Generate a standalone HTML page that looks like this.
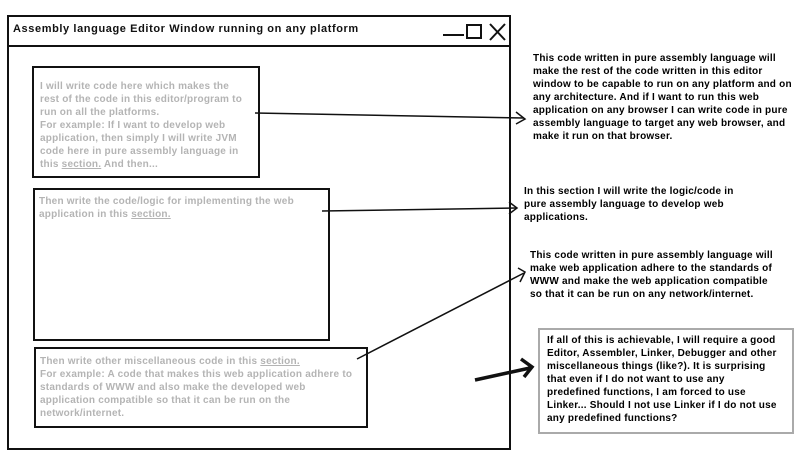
<!DOCTYPE html>
<html><head><style>
body{margin:0;width:800px;height:457px;background:#fff;position:relative;overflow:hidden;font-family:"Liberation Sans",Arial,sans-serif;font-weight:bold;font-size:10px;letter-spacing:0.22px;}
.b{position:absolute;box-sizing:border-box;}
.t{position:absolute;line-height:13px;white-space:nowrap;}
.g{color:#b4b4b4;}
u{text-decoration:underline;}
</style></head><body>
<div class="b" style="left:7px;top:15px;width:504px;height:435px;border:2px solid #111;"></div>
<div class="b" style="left:7px;top:45px;width:504px;height:2px;background:#111;"></div>
<div class="t" style="left:13px;top:23px;font-size:11px;letter-spacing:0.6px;color:#111;">Assembly language Editor Window running on any platform</div>
<div class="b" style="left:443px;top:34px;width:21px;height:2px;background:#111;"></div>
<div class="b" style="left:466px;top:24px;width:16px;height:15px;border:2px solid #111;"></div>
<svg class="b" style="left:0;top:0" width="800" height="457">
<path d="M490 24 L505 40 M505 24 L490 40" stroke="#111" stroke-width="2" fill="none"/>
<g stroke="#111" stroke-width="1.5" fill="none">
<path d="M255 113 L524 118"/><path d="M516 112 L525 119 L516 124"/>
<path d="M322 211 L516 208"/><path d="M509 202 L517 208 L509 214"/>
<path d="M357 359 L524 273"/><path d="M518 268 L525 272 L520 282"/>
</g>
<g stroke="#111" stroke-width="3.5" fill="none">
<path d="M475 380 L530 368"/><path d="M521 359 L532 367 L524 377"/>
</g>
</svg>
<div class="b" style="left:32px;top:66px;width:228px;height:112px;border:2px solid #111;"></div>
<div class="t g" style="left:40px;top:80px;">I will write code here which makes the<br>rest of the code in this editor/program to<br>run on all the platforms.<br>For example: If I want to develop web<br>application, then simply I will write JVM<br>code here in pure assembly language in<br>this <u>section.</u> And then...</div>
<div class="b" style="left:33px;top:188px;width:297px;height:153px;border:2px solid #111;"></div>
<div class="t g" style="left:39px;top:195px;">Then write the code/logic for implementing the web<br>application in this <u>section.</u></div>
<div class="b" style="left:34px;top:347px;width:334px;height:81px;border:2px solid #111;"></div>
<div class="t g" style="left:40px;top:355px;">Then write other miscellaneous code in this <u>section.</u><br>For example: A code that makes this web application adhere to<br>standards of WWW and also make the developed web<br>application compatible so that it can be run on the<br>network/internet.</div>
<div class="t" style="left:533px;top:52px;">This code written in pure assembly language will<br>make the rest of the code written in this editor<br>window to be capable to run on any platform and on<br>any architecture. And if I want to run this web<br>application on any browser I can write code in pure<br>assembly language to target any web browser, and<br>make it run on that browser.</div>
<div class="t" style="left:524px;top:185px;">In this section I will write the logic/code in<br>pure assembly language to develop web<br>applications.</div>
<div class="t" style="left:530px;top:249px;">This code written in pure assembly language will<br>make web application adhere to the standards of<br>WWW and make the web application compatible<br>so that it can be run on any network/internet.</div>
<div class="b" style="left:538px;top:328px;width:256px;height:106px;border:2px solid #aaa;"></div>
<div class="t" style="left:547px;top:334px;">If all of this is achievable, I will require a good<br>Editor, Assembler, Linker, Debugger and other<br>miscellaneous things (like?). It is surprising<br>that even if I do not want to use any<br>predefined functions, I am forced to use<br>Linker... Should I not use Linker if I do not use<br>any predefined functions?</div>
</body></html>
